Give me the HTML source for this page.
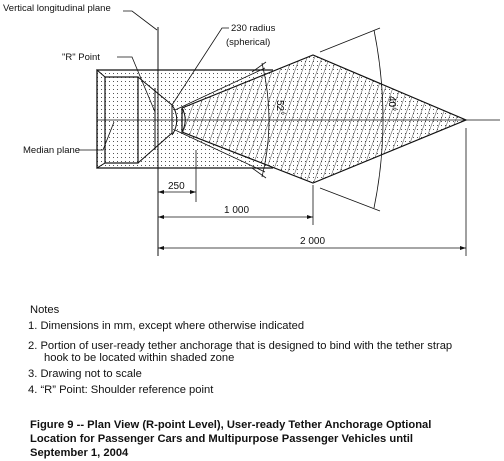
<!DOCTYPE html>
<html><head><meta charset="utf-8"><style>
html,body{margin:0;padding:0;background:#fff;}
svg{display:block;font-family:"Liberation Sans",Arial,sans-serif;}
</style></head><body>
<svg width="504" height="461" viewBox="0 0 504 461">
<defs>
<pattern id="dots" width="4" height="4" patternUnits="userSpaceOnUse"><rect x="1" y="1" width="1" height="1" fill="#555"/></pattern>
<pattern id="hatch" width="7" height="7" patternUnits="userSpaceOnUse" patternTransform="rotate(20)"><line x1="0" y1="0" x2="0" y2="7" stroke="#222" stroke-width="0.8"/></pattern>
</defs>
<g>
<rect x="97" y="70" width="176" height="98" fill="url(#dots)"/>
<path d="M273,70 L97,70 L97,168 L273,168" fill="none" stroke="#111" stroke-width="1.3"/>
<polygon points="97,70 105,77 138,77 172,105 172,133 138,163 105,163 97,168" fill="none" stroke="#111" stroke-width="1"/>
<rect x="105" y="77" width="33" height="86" fill="none" stroke="#111" stroke-width="1.2"/>
<line x1="155" y1="88" x2="155" y2="150" stroke="#111"/>
</g>
<g>
<polygon points="182,108 313,55 466,120 313,183 182,132" fill="url(#dots)"/>
<polygon points="182,108 313,55 466,120 313,183 182,132" fill="url(#hatch)" stroke="#111" stroke-width="1.2"/>
<path d="M182,108 A24,24 0 0 1 182,132" fill="none" stroke="#111"/>
<path d="M172,105 A26,26 0 0 1 172,135" fill="none" stroke="#111"/>
<line x1="175" y1="110" x2="265" y2="68" stroke="#111" stroke-width="0.8"/>
<line x1="175" y1="130" x2="265" y2="172" stroke="#111" stroke-width="0.8"/>
</g>
<g>
<line x1="97" y1="120" x2="500" y2="120" stroke="#111" stroke-width="0.8"/>
</g>
<line x1="158" y1="27" x2="158" y2="256" stroke="#111"/>
<g stroke="#111" fill="none" stroke-width="0.8">
<path d="M262,63 Q276,120 262,177"/>
<line x1="252" y1="72" x2="266" y2="62"/><line x1="252" y1="168" x2="266" y2="178"/>
</g>
<text x="277" y="100" font-size="10" transform="rotate(90 277 100)">52°</text>
<g stroke="#111" fill="none" stroke-width="0.8">
<path d="M374,30 Q392,120 374,208"/>
<line x1="320" y1="52" x2="380" y2="28"/><line x1="320" y1="188" x2="380" y2="211"/>
</g>
<text x="389" y="96" font-size="10" transform="rotate(90 389 96)">40°</text>
<g stroke="#111" stroke-width="0.8">
<line x1="196" y1="150" x2="196" y2="202"/><line x1="158" y1="192" x2="196" y2="192"/>
<line x1="313" y1="185" x2="313" y2="225"/><line x1="158" y1="217" x2="313" y2="217"/>
<line x1="466" y1="128" x2="466" y2="256"/><line x1="158" y1="248" x2="466" y2="248"/>
</g>
<g fill="#111">
<polygon points="158,192 164,190 164,194"/><polygon points="196,192 190,190 190,194"/>
<polygon points="158,217 164,215 164,219"/><polygon points="313,217 307,215 307,219"/>
<polygon points="158,248 164,246 164,250"/><polygon points="466,248 460,246 460,250"/>
</g>
<g font-size="10" fill="#111">
<text x="168" y="189">250</text><text x="224" y="213">1 000</text><text x="300" y="244">2 000</text>
</g>
<g stroke="#111" stroke-width="0.8" fill="none">
<polyline points="123,11 132,11 157,30"/>
<polyline points="229,28 222,28 172,105"/>
<polyline points="117,57 132,57 155,112"/>
<polyline points="78,150 103,150 114,122"/>
</g>
<g font-size="9.5" fill="#111">
<text x="3" y="11">Vertical longitudinal plane</text>
<text x="231" y="31">230 radius</text>
<text x="226" y="45">(spherical)</text>
<text x="62" y="60">"R" Point</text>
<text x="23" y="153">Median plane</text>
</g>
<g font-size="11.2" fill="#111">
<text x="30" y="313">Notes</text>
<text x="28" y="329">1.  Dimensions in mm, except where otherwise indicated</text>
<text x="28" y="349">2.  Portion of user-ready tether anchorage that is designed to bind with the tether strap</text>
<text x="44" y="361">hook to be located within shaded zone</text>
<text x="28" y="377">3.  Drawing not to scale</text>
<text x="28" y="393">4.  “R” Point:  Shoulder reference point</text>
</g>
<g font-size="11.2" font-weight="bold" fill="#111">
<text x="30" y="428">Figure 9 -- Plan View (R-point Level), User-ready Tether Anchorage Optional</text>
<text x="30" y="442">Location for Passenger Cars and Multipurpose Passenger Vehicles until</text>
<text x="30" y="456">September 1, 2004</text>
</g>
</svg>
</body></html>
